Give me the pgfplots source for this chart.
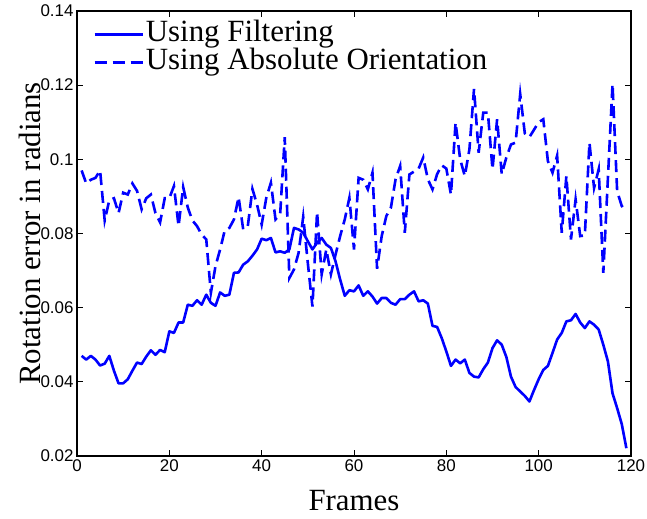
\documentclass[border=0pt]{standalone}
\usepackage{fontspec}
\setmainfont{Liberation Serif}
\setsansfont{Liberation Sans}
\usepackage{pgfplots}
\pgfplotsset{compat=1.18}
\usepackage{pgfplotstable}

\pgfplotstableread{
x y
1 0.0470
2 0.0460
3 0.0470
4 0.0460
5 0.0444
6 0.0449
7 0.0470
8 0.0430
9 0.0396
10 0.0396
11 0.0407
12 0.0430
13 0.0452
14 0.0448
15 0.0468
16 0.0485
17 0.0473
18 0.0486
19 0.0480
20 0.0536
21 0.0532
22 0.0560
23 0.0560
24 0.0608
25 0.0605
26 0.0620
27 0.0608
28 0.0635
29 0.0613
30 0.0605
31 0.0641
32 0.0632
33 0.0635
34 0.0694
35 0.0695
36 0.0716
37 0.0725
38 0.0740
39 0.0757
40 0.0786
41 0.0782
42 0.0788
43 0.0749
44 0.0752
45 0.0748
46 0.0757
47 0.0815
48 0.0811
49 0.0802
50 0.0779
51 0.0757
52 0.0775
53 0.0788
54 0.0770
55 0.0761
56 0.0725
57 0.0676
58 0.0632
59 0.0647
60 0.0644
61 0.0660
62 0.0632
63 0.0644
64 0.0630
65 0.0611
66 0.0626
67 0.0626
68 0.0613
69 0.0608
70 0.0623
71 0.0623
72 0.0635
73 0.0644
74 0.0617
75 0.0620
76 0.0611
77 0.0551
78 0.0548
79 0.0518
80 0.0482
81 0.0443
82 0.0460
83 0.0450
84 0.0460
85 0.0424
86 0.0414
87 0.0412
88 0.0434
89 0.0452
90 0.0491
91 0.0512
92 0.0500
93 0.0467
94 0.0414
95 0.0386
96 0.0374
97 0.0362
98 0.0347
99 0.0378
100 0.0407
101 0.0432
102 0.0443
103 0.0478
104 0.0514
105 0.0532
106 0.0563
107 0.0566
108 0.0583
109 0.0560
110 0.0545
111 0.0563
112 0.0554
113 0.0541
114 0.0500
115 0.0455
116 0.0369
117 0.0329
118 0.0286
119 0.0221
}\filt

\pgfplotstableread{
x y
1 0.0970
2 0.0935
3 0.0945
4 0.0950
5 0.0970
6 0.0835
7 0.0890
8 0.0895
9 0.0855
10 0.0910
11 0.0905
12 0.0935
13 0.0915
14 0.0865
15 0.0895
16 0.0905
17 0.0855
18 0.0830
19 0.0895
20 0.0895
21 0.0928
22 0.0820
23 0.0925
24 0.0870
25 0.0835
26 0.0820
27 0.0797
28 0.0784
29 0.0640
30 0.0712
31 0.0757
32 0.0808
33 0.0815
34 0.0838
35 0.0898
36 0.0811
37 0.0820
38 0.0920
39 0.0878
40 0.0824
41 0.0896
42 0.0937
43 0.0838
44 0.0851
45 0.1060
46 0.0680
47 0.0703
48 0.0748
49 0.0845
50 0.0720
51 0.0603
52 0.0858
53 0.0690
54 0.0757
55 0.0690
56 0.0743
57 0.0793
58 0.0838
59 0.0896
60 0.0757
61 0.0950
62 0.0945
63 0.0919
64 0.0964
65 0.0705
66 0.0793
67 0.0847
68 0.0870
69 0.0946
70 0.0982
71 0.0802
72 0.0959
73 0.0967
74 0.0975
75 0.1005
76 0.0946
77 0.0919
78 0.0960
79 0.0984
80 0.0975
81 0.0905
82 0.1099
83 0.1000
84 0.0955
85 0.1027
86 0.1190
87 0.1018
88 0.1126
89 0.1126
90 0.0973
91 0.1108
92 0.0960
93 0.1005
94 0.1040
95 0.1045
96 0.1176
97 0.1070
98 0.1060
99 0.1080
100 0.1100
101 0.1108
102 0.0995
103 0.0964
104 0.1010
105 0.0802
106 0.0955
107 0.0784
108 0.0892
109 0.0793
110 0.0795
111 0.1045
112 0.0923
113 0.0973
114 0.0694
115 0.0950
116 0.1203
117 0.0914
118 0.0874
119 0.0861
}\absor

\begin{document}
\begin{tikzpicture}
\begin{axis}[
  name=ax,
  scale only axis,
  width=554bp, height=445bp,
  xmin=0, xmax=120, ymin=0.02, ymax=0.14,
  xtick={0,20,40,60,80,100,120},
  ytick={0.02,0.04,0.06,0.08,0.1,0.12,0.14},
  tick align=inside,
  major tick length=6bp,
  axis line style={line width=1.2bp, black},
  every tick/.style={black, line width=0.8bp},
  /pgf/number format/assume math mode=true,
  ticklabel style={font=\sffamily\fontsize{17}{17}\selectfont},
  yticklabel style={/pgf/number format/fixed, /pgf/number format/precision=2},
  scaled y ticks=false,
  xlabel={Frames},
  ylabel={Rotation error in radians},
  label style={font=\fontsize{31}{31}\selectfont},
  xlabel style={at={(axis description cs:0.5,-0.099)}, anchor=center},
  ylabel style={at={(axis description cs:-0.085,0.5)}, anchor=center},
  legend cell align=left,
  legend style={at={(axis description cs:0.029,0.977)}, anchor=north west,
    draw=none, fill=none, inner xsep=0pt, inner ysep=0pt, row sep=2bp,
    font=\fontsize{31}{31}\selectfont,
    nodes={inner ysep=0pt, text height=20bp, text depth=6bp}},
  legend image code/.code={\draw[#1] (0bp,0bp) -- (48bp,0bp);},
]
\addplot[blue, line width=2.6bp, line join=round] table[x=x,y=y] {\filt};
\addlegendentry{Using Filtering}
\addplot[blue, line width=2.6bp, dash pattern=on 12bp off 6bp] table[x=x,y=y] {\absor};
\addlegendentry{Using Absolute Orientation}
\end{axis}
\pgfresetboundingbox
\path[use as bounding box] ([xshift=-77bp,yshift=-63bp]ax.south west) rectangle ([xshift=16bp,yshift=11bp]ax.north east);
\end{tikzpicture}
\end{document}
